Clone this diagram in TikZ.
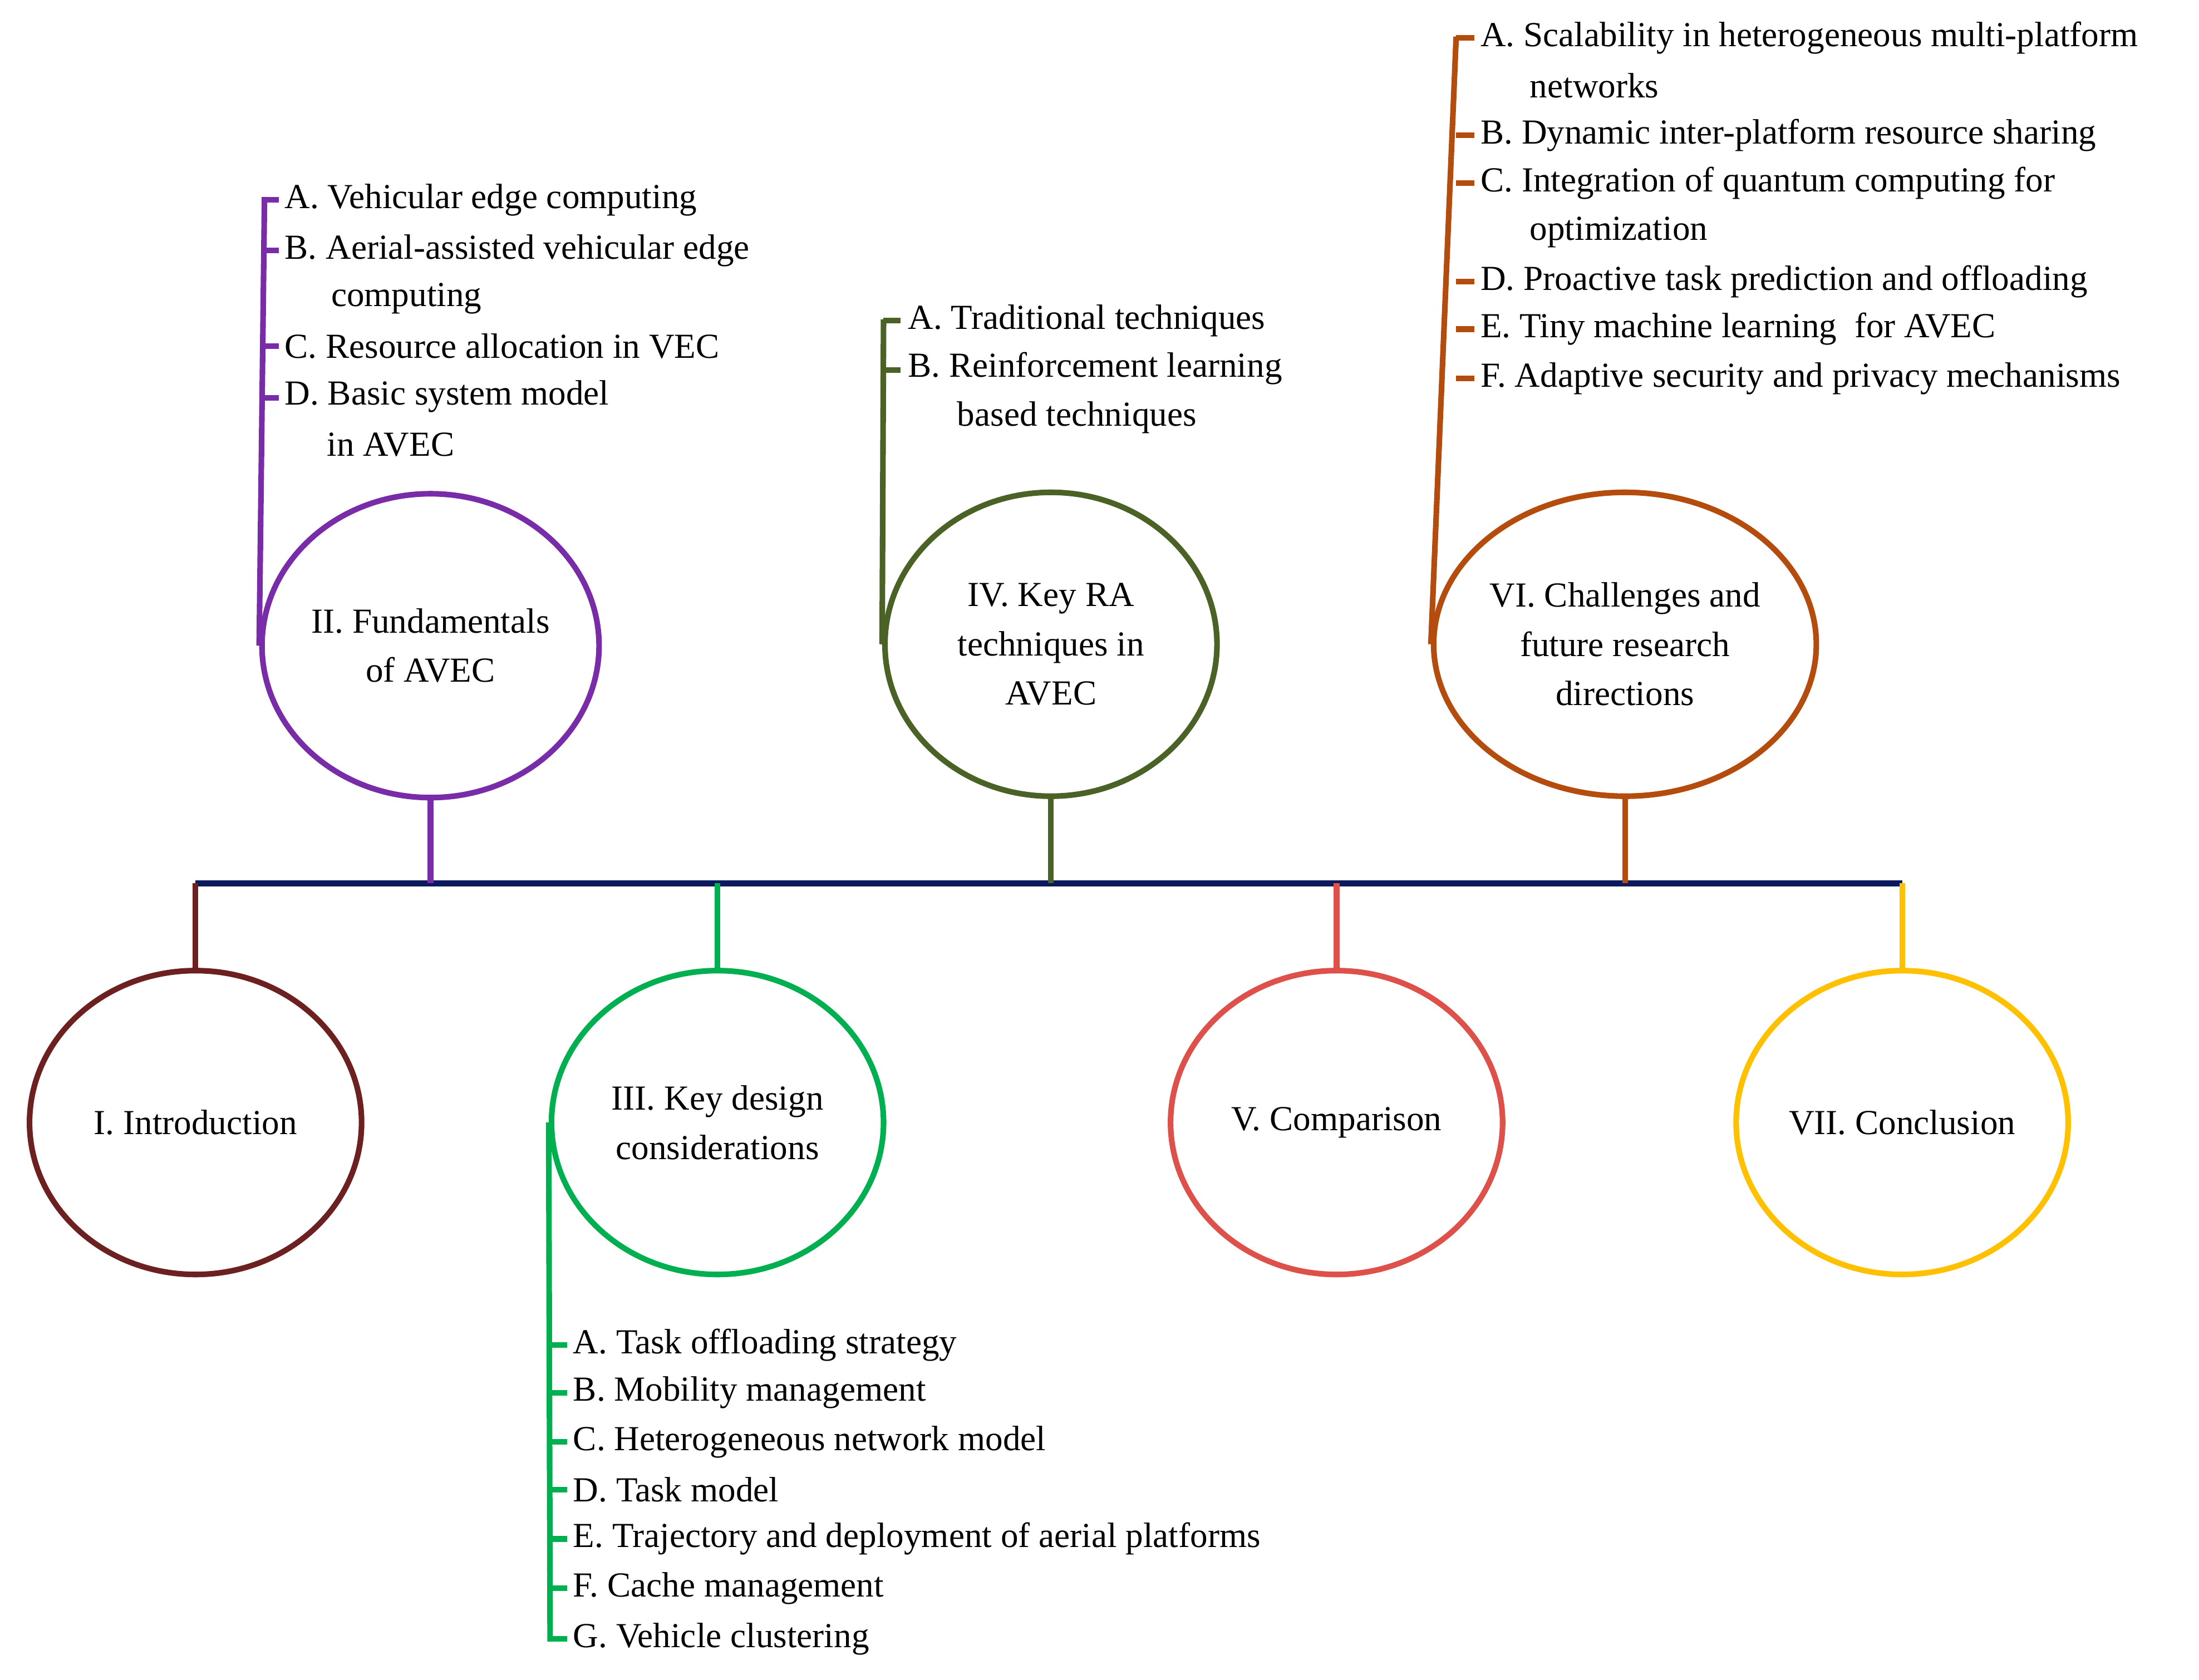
\documentclass[tikz,border=0pt]{standalone}
\usepackage{fontspec}
\setmainfont{Liberation Serif}
\usetikzlibrary{shapes.geometric}
\definecolor{cpur}{RGB}{120,44,168}
\definecolor{colv}{RGB}{74,98,38}
\definecolor{cora}{RGB}{180,76,14}
\definecolor{cdr}{RGB}{108,32,32}
\definecolor{cgr}{RGB}{0,176,80}
\definecolor{cred}{RGB}{222,80,74}
\definecolor{cyel}{RGB}{255,192,0}
\definecolor{cnav}{RGB}{10,26,92}
\begin{document}
\begin{tikzpicture}[x=0.5pt,y=-0.5pt,
 ell/.style={ellipse,draw,line width=2pt,minimum width=118pt,minimum height=108pt,align=center,font=\fontsize{12.5}{17.5}\selectfont,inner sep=0pt},
 it/.style={anchor=west,font=\fontsize{12.5}{17.5}\selectfont,inner sep=0pt},
 ln/.style={line width=2pt}]
\useasboundingbox (0,0) rectangle (1563,1194);
\coordinate (L) at (139,628); \coordinate (R) at (1352,628);
\draw[cnav,line width=2pt] (L) -- (R);
% top
\node[ell,cpur,text=black] (e2) at (306,459) {II. Fundamentals\\of AVEC};
\node[ell,colv,text=black] (e4) at (747,458) {IV. Key RA\\techniques in\\AVEC};
\node[ell,cora,text=black] (e6) at (1155,458) {VI. Challenges and\\future research\\directions};
% bottom
\node[ell,cdr,text=black] (e1) at (139,798) {I. Introduction};
\node[ell,cgr,text=black] (e3) at (510,798) {III. Key design\\considerations};
\node[ell,cred,text=black] (e5) at (950,798) {V. Comparison};
\node[ell,cyel,text=black] (e7) at (1352,798) {VII. Conclusion};
\foreach \e/\c/\x in {e2/cpur/306,e4/colv/747,e6/cora/1155}{
 \coordinate (t\e) at (\x,628);
 \draw[ln,\c] (\e.south) -- (t\e);}
\foreach \e/\c/\x in {e1/cdr/139,e3/cgr/510,e5/cred/950,e7/cyel/1352}{
 \coordinate (t\e) at (\x,628);
 \draw[ln,\c] (\e.north) -- (t\e);}
% list II
\coordinate (a2) at (188,140);
\draw[ln,cpur] (a2) -- (e2.west);
\foreach \y in {142,178,246,283}{\draw[ln,cpur] (188,\y) -- (198,\y);}
\node[it] (i2a) at (202,142) {A. Vehicular edge computing};
\node[it] (i2b) at (202,178) {B. Aerial-assisted vehicular edge};
\node[it] (i2b2) at (235,212) {computing};
\node[it] (i2c) at (202,246) {C. Resource allocation in VEC};
\node[it] (i2d) at (202,282) {D. Basic system model};
\node[it] (i2d2) at (232,316) {in AVEC};
% list IV
\coordinate (a4) at (628,227);
\draw[ln,colv] (a4) -- (e4.west);
\foreach \y in {228,263}{\draw[ln,colv] (628,\y) -- (640,\y);}
\node[it] (i4a) at (645,228) {A. Traditional techniques};
\node[it] (i4b) at (645,262) {B. Reinforcement learning};
\node[it] (i4b2) at (680,297) {based techniques};
% list VI
\coordinate (a6) at (1035,26);
\draw[ln,cora] (a6) -- (e6.west);
\foreach \y in {27,96,130,200,234,269}{\draw[ln,cora] (1035,\y) -- (1048,\y);}
\node[it] (i6a) at (1052,27) {A. Scalability in heterogeneous multi-platform};
\node[it] (i6a2) at (1087,61) {networks};
\node[it] (i6b) at (1052,96) {B. Dynamic inter-platform resource sharing};
\node[it] (i6c) at (1052,130) {C. Integration of quantum computing for};
\node[it] (i6c2) at (1087,165) {optimization};
\node[it] (i6d) at (1052,200) {D. Proactive task prediction and offloading};
\node[it] (i6e) at (1052,234) {E. Tiny machine learning\ \ for AVEC};
\node[it] (i6f) at (1052,269) {F. Adaptive security and privacy mechanisms};
% list III
\coordinate (a3) at (391,1167);
\draw[ln,cgr] (e3.west) -- (a3);
\foreach \y in {956,990,1025,1059,1094,1129,1165}{\draw[ln,cgr] (391,\y) -- (403,\y);}
\node[it] (i3a) at (407,956) {A. Task offloading strategy};
\node[it] (i3b) at (407,990) {B. Mobility management};
\node[it] (i3c) at (407,1025) {C. Heterogeneous network model};
\node[it] (i3d) at (407,1059) {D. Task model};
\node[it] (i3e) at (407,1094) {E. Trajectory and deployment of aerial platforms};
\node[it] (i3f) at (407,1129) {F. Cache management};
\node[it] (i3g) at (407,1165) {G. Vehicle clustering};
\end{tikzpicture}
\end{document}
